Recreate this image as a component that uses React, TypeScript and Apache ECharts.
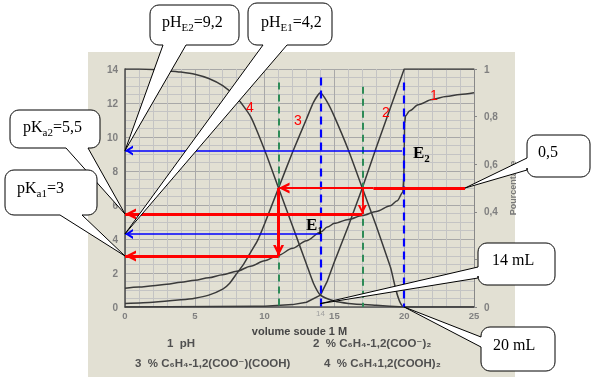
import React, { useEffect, useRef } from 'react';
import * as echarts from 'echarts';

// ---- data ----
const volumePH = [0, 1, 2, 3, 4, 5, 6, 7, 8, 9, 10, 11, 12, 13, 14, 14.5, 15, 16, 17, 18, 19, 19.5, 19.9, 19.97, 20, 20.03, 20.1, 20.4, 21, 22, 23, 24, 25];
const phValues = [1.1, 1.17, 1.25, 1.34, 1.45, 1.58, 1.72, 1.9, 2.1, 2.4, 2.72, 3.05, 3.45, 3.9, 4.4, 4.7, 4.92, 5.15, 5.38, 5.62, 5.95, 6.25, 6.75, 7.6, 9.2, 10.8, 11.25, 11.55, 11.9, 12.2, 12.38, 12.5, 12.6];

const volumeDianion = [0, 10, 12, 13, 14, 14.5, 15, 16, 17, 18, 19, 20, 25];
const dianion = [0, 0.003, 0.01, 0.02, 0.05, 0.11, 0.19, 0.34, 0.5, 0.67, 0.835, 1, 1];

const volumeMonoanion = [0, 2, 4, 5, 6, 7, 7.5, 8, 8.5, 9, 9.5, 10, 11, 12, 13, 13.5, 14, 14.5, 15, 16, 17, 18, 19, 20, 25];
const monoanion = [0.015, 0.02, 0.03, 0.037, 0.05, 0.075, 0.1, 0.14, 0.18, 0.23, 0.28, 0.35, 0.5, 0.65, 0.79, 0.86, 0.9, 0.86, 0.8, 0.66, 0.5, 0.34, 0.17, 0, 0];

const volumeDiacid = [0, 1, 2, 3, 4, 5, 6, 7, 8, 9, 10, 11, 12, 13, 13.5, 14, 15, 16, 18, 20];
const diacid = [1, 1, 0.998, 0.993, 0.987, 0.978, 0.96, 0.93, 0.88, 0.8, 0.66, 0.5, 0.34, 0.18, 0.1, 0.05, 0.025, 0.015, 0.007, 0];

const xTicks = { min: 0, max: 25, interval: 5 };
const phTicks = { min: 0, max: 14, interval: 2 };
const fracTicks = { min: 0, max: 1, interval: 0.2 };
const hiddenFracLabels = [0.2]; // covered by the "14 mL" callout in the reference

const vE1 = 14;
const vE2 = 20;
const vHalf1 = 11;
const vHalf2 = 17;
const pHE1 = 4.3;
const pHE2 = 9.2;
const pKa1 = 3.0;
const pKa2 = 5.47;
const halfFraction = 0.5;

const curveNames = ['1  pH', '2  % C₆H₄-1,2(COO⁻)₂', '3  % C₆H₄-1,2(COO⁻)(COOH)', '4  % C₆H₄1,2(COOH)₂'];

// ---- styles ----
const CURVE = '#3a3a3a';
const BLUE = '#0000ff';
const RED = '#ff0000';
const GREEN = '#2e8b57';
const SERIF = '"Liberation Serif", "Times New Roman", serif';
const SANS = '"Liberation Sans", Arial, "DejaVu Sans", sans-serif';
const CHEVRON = 'path://M5,0 M0,20 L5,10 L10,20 L7.6,20 L5,14.8 L2.4,20 Z';

const zip = (xs: number[], ys: number[]) => xs.map((x, i) => [x, ys[i]]);
const fracToPH = (f: number) => f * phTicks.max;

function seg(x1: number, y1: number, x2: number, y2: number, lineStyle: any, arrow?: number[]) {
  return [
    { coord: [x1, y1], symbol: 'none', lineStyle },
    arrow ? { coord: [x2, y2], symbol: CHEVRON, symbolSize: arrow } : { coord: [x2, y2], symbol: 'none' },
  ];
}

function bubble(x: number, y: number, w: number, h: number, r: number, side: string, a1: number, a2: number, tip: number[]) {
  const pts: number[][] = [];
  const arc = (cx: number, cy: number, s: number, e: number) => {
    for (let i = 0; i <= 6; i++) {
      const t = s + ((e - s) * i) / 6;
      pts.push([cx + r * Math.cos(t), cy + r * Math.sin(t)]);
    }
  };
  arc(x + r, y + r, Math.PI, 1.5 * Math.PI);
  arc(x + w - r, y + r, 1.5 * Math.PI, 2 * Math.PI);
  arc(x + w - r, y + h - r, 0, 0.5 * Math.PI);
  if (side === 'bottom') pts.push([a2, y + h], tip, [a1, y + h]);
  arc(x + r, y + h - r, 0.5 * Math.PI, Math.PI);
  if (side === 'left') pts.push([x, a2], tip, [x, a1]);
  return pts;
}

export default function App() {
  const ref = useRef<HTMLDivElement>(null);
  useEffect(() => {
    const chart = echarts.init(ref.current!, undefined, { renderer: 'svg' });
    const thickRed = { color: RED, width: 3, type: 'solid' };
    const thinRed = { color: RED, width: 1.8, type: 'solid' };
    const blueLine = { color: BLUE, width: 1.5, type: 'solid' };
    const blueDash = { color: BLUE, width: 2.2, type: [8, 5] };
    const greenDash = { color: GREEN, width: 2, type: [7, 5] };
    const redArrow = [11, 22];
    const blueArrow = [10, 16];

    const axisLabel = { color: '#808080', fontSize: 10, fontWeight: 'bold', fontFamily: SANS };
    const option: any = {
      animation: false,
      grid: { left: 125, right: 120, top: 69, bottom: 70 },
      xAxis: {
        type: 'value', ...xTicks,
        name: 'volume soude 1 M', nameLocation: 'middle', nameGap: 12,
        nameTextStyle: { color: '#454545', fontSize: 11, fontWeight: 'bold', fontFamily: SANS, lineHeight: 12 },
        axisLine: { show: true, lineStyle: { color: '#555', width: 1.6 } },
        axisTick: { show: false },
        axisLabel: { ...axisLabel, fontSize: 9.5, margin: 3, lineHeight: 10 },
        splitLine: { show: true, lineStyle: { color: '#a8a8a8', width: 1 } },
        minorTick: { show: false, splitNumber: 5 },
        minorSplitLine: { show: true, lineStyle: { color: '#c4c4c4', width: 1 } },
      },
      yAxis: [
        {
          type: 'value', ...phTicks, position: 'left',
          axisLine: { show: true, lineStyle: { color: '#555', width: 1.6 } },
          axisTick: { show: false },
          axisLabel: { ...axisLabel, margin: 7 },
          splitLine: { show: true, lineStyle: { color: '#a8a8a8', width: 1 } },
          minorTick: { show: false, splitNumber: 4 },
          minorSplitLine: { show: true, lineStyle: { color: '#c4c4c4', width: 1 } },
        },
        {
          type: 'value', ...fracTicks, position: 'right',
          name: 'Pourcentage', nameLocation: 'middle', nameGap: 30, nameRotate: 90,
          nameTextStyle: { color: '#7a7a7a', fontSize: 9, fontWeight: 'bold', fontFamily: SANS },
          axisLine: { show: true, lineStyle: { color: '#888', width: 1 } },
          axisTick: { show: true, length: 3, lineStyle: { color: '#888' } },
          axisLabel: {
            ...axisLabel, margin: 10,
            formatter: (v: number) =>
              hiddenFracLabels.some((h) => Math.abs(h - v) < 1e-6) ? '' : v === 0 ? '0' : v === 1 ? '1' : v.toFixed(1).replace('.', ','),
          },
          splitLine: { show: false },
        },
      ],
      series: [
        {
          name: curveNames[0], type: 'line', yAxisIndex: 0, data: zip(volumePH, phValues),
          smooth: 0.3, smoothMonotone: 'x', symbol: 'none', z: 3,
          lineStyle: { color: CURVE, width: 1.5 },
          markLine: {
            silent: true, animation: false, symbol: ['none', 'none'],
            label: { show: false }, emphasis: { disabled: true },
            data: [
              seg(vE1, 13.5, vE1, 0, blueDash),
              seg(vE2, 13.2, vE2, 0, blueDash),
              seg(vHalf1, 13.2, vHalf1, 0, greenDash),
              seg(vHalf2, 12.95, vHalf2, 0, greenDash),
              seg(19.85, pHE2, 0, pHE2, blueLine, blueArrow),
              seg(vE1, pHE1, 0, pHE1, blueLine, blueArrow),
              seg(24.36, fracToPH(halfFraction), 17.8, fracToPH(halfFraction), thickRed),
              seg(17.8, fracToPH(halfFraction), vHalf1, fracToPH(halfFraction), thinRed, redArrow),
              seg(vHalf1, fracToPH(halfFraction), vHalf1, pKa1, thickRed, redArrow),
              seg(vHalf1, pKa1, 0, pKa1, thickRed, redArrow),
              seg(vHalf2, fracToPH(halfFraction), vHalf2, pKa2, thinRed, [9, 18]),
              seg(vHalf2, pKa2, 0, pKa2, thickRed, redArrow),
            ],
          },
        },
        {
          name: curveNames[1], type: 'line', yAxisIndex: 1, data: zip(volumeDianion, dianion),
          smooth: false, symbol: 'none', lineStyle: { color: CURVE, width: 1.5 },
        },
        {
          name: curveNames[2], type: 'line', yAxisIndex: 1, data: zip(volumeMonoanion, monoanion),
          smooth: 0.2, symbol: 'none', lineStyle: { color: CURVE, width: 1.5 },
        },
        {
          name: curveNames[3], type: 'line', yAxisIndex: 1, data: zip(volumeDiacid, diacid),
          smooth: 0.2, symbol: 'none', lineStyle: { color: CURVE, width: 1.5 },
        },
      ],
    };
    chart.setOption(option);

    const px = (x: number, y: number) => chart.convertToPixel({ xAxisIndex: 0, yAxisIndex: 0 }, [x, y]) as number[];

    const richN = { fontFamily: SERIF, fontSize: 16, fill: '#000', verticalAlign: 'middle', lineHeight: 22 };
    const richS = { fontFamily: SERIF, fontSize: 11, fill: '#000', verticalAlign: 'bottom', lineHeight: 12 };

    const callouts = [
      { parts: ['pH', 'E2', '=9,2'], box: [150, 5, 89, 40], side: 'bottom', base: [163, 186], tip: [0, pHE2], t: [162, 21] },
      { parts: ['pH', 'E1', '=4,2'], box: [248, 3, 84, 42], side: 'bottom', base: [263, 287], tip: [0, pHE1], t: [261, 21] },
      { parts: ['pK', 'a2', '=5,5'], box: [10, 110, 90, 38], side: 'bottom', base: [66, 88], tip: [0, pKa2], t: [23, 126] },
      { parts: ['pK', 'a1', '=3'], box: [5, 170, 92, 45], side: 'bottom', base: [60, 82], tip: [0, pKa1], t: [17, 187] },
      { parts: ['0,5'], box: [527, 135, 63, 42], side: 'left', base: [158, 170], tip: [24.36, fracToPH(halfFraction)], t: [538, 151] },
      { parts: ['14 mL'], box: [478, 243, 77, 42], side: 'left', base: [267, 278], tip: [vE1, 0.2], t: [492, 259] },
      { parts: ['20 mL'], box: [481, 327, 74, 44], side: 'left', base: [337, 347], tip: [vE2, 0], t: [493, 344] },
    ];

    const elements: any[] = [
      { type: 'rect', z: -100, silent: true, shape: { x: 88, y: 52, width: 427, height: 325 }, style: { fill: '#e2e0d3' } },
    ];

    // faint "14" under the axis
    const p14 = px(vE1, 0);
    elements.push({ type: 'text', z: 5, x: p14[0], y: p14[1] + 6, style: { text: '14', fill: '#a0a0a0', fontSize: 8, fontFamily: SANS, align: 'center', verticalAlign: 'middle' } });

    // curve numbers in red
    const numbers = [['1', 434, 95], ['2', 386, 112], ['3', 298, 120], ['4', 250, 107]];
    numbers.forEach(([t, x, y]) => {
      elements.push({ type: 'text', z: 10, x, y, style: { text: t, fill: RED, fontSize: 14, fontFamily: SANS, align: 'center', verticalAlign: 'middle' } });
    });

    // E1 / E2 labels
    const bN = { fontFamily: SERIF, fontSize: 17, fontWeight: 'bold', fill: '#000', verticalAlign: 'middle', lineHeight: 22 };
    const bS = { fontFamily: SERIF, fontSize: 11, fontWeight: 'bold', fill: '#000', verticalAlign: 'bottom', lineHeight: 12 };
    [['1', 306, 224], ['2', 413, 152]].forEach(([n, x, y]) => {
      elements.push({ type: 'text', z: 10, x, y, style: { text: `{n|E}{s|${n}}`, rich: { n: bN, s: bS }, align: 'left', verticalAlign: 'middle' } });
    });

    // legend texts
    const legendPos = [[167, 343], [313, 343], [135, 363], [324, 363]];
    curveNames.forEach((name, i) => {
      elements.push({ type: 'text', z: 10, x: legendPos[i][0], y: legendPos[i][1], style: { text: name, fill: '#505050', fontSize: 11.5, fontWeight: 'bold', fontFamily: SANS, align: 'left', verticalAlign: 'middle', lineHeight: 13 } });
    });

    callouts.forEach((c, i) => {
      const tip = px(c.tip[0], c.tip[1]);
      const [bx, by, bw, bh] = c.box;
      elements.push({
        type: 'polygon', z: 100 + i * 2,
        shape: { points: bubble(bx, by, bw, bh, 9, c.side, c.base[0], c.base[1], tip) },
        style: { fill: '#fff', stroke: '#000', lineWidth: 1 },
      });
      const text = c.parts.length === 3 ? `{n|${c.parts[0]}}{s|${c.parts[1]}}{n|${c.parts[2]}}` : `{n|${c.parts[0]}}`;
      elements.push({
        type: 'text', z: 101 + i * 2, x: c.t[0], y: c.t[1],
        style: { text, rich: { n: richN, s: richS }, align: 'left', verticalAlign: 'middle' },
      });
    });

    chart.setOption({ graphic: elements });
    return () => chart.dispose();
  }, []);
  return <div ref={ref} style={{ position: 'fixed', left: 0, top: 0, width: 594, height: 377 }} />;
}
